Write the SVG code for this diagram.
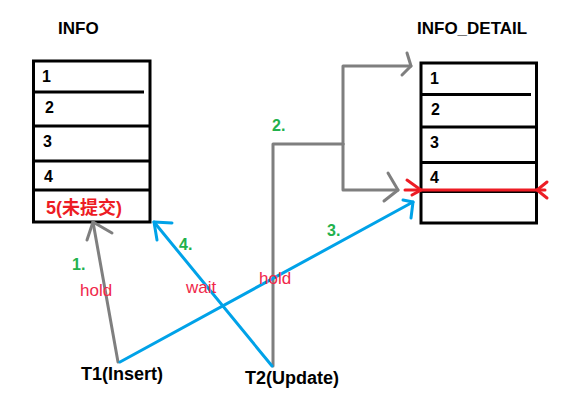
<svg xmlns="http://www.w3.org/2000/svg" width="588" height="420" viewBox="0 0 588 420">
<style>
.tbl{fill:none;stroke:#000;stroke-width:3}
.row{stroke:#000;stroke-width:3}
.title{font-family:"Liberation Sans",Arial,sans-serif;font-weight:bold;font-size:17px;fill:#000}
.num{font-family:"Liberation Sans",Arial,sans-serif;font-weight:bold;font-size:16px;fill:#000}
.gray{fill:none;stroke:#7f7f7f;stroke-width:3;stroke-linecap:round;stroke-linejoin:round}
.blue{fill:none;stroke:#00a2e8;stroke-width:3;stroke-linecap:round;stroke-linejoin:round}
.red{fill:none;stroke:#ed1c24;stroke-width:3;stroke-linecap:round}
.step{font-family:"Liberation Sans",Arial,sans-serif;font-weight:bold;font-size:16px;fill:#22b14c}
.lock{font-family:"Liberation Sans",Arial,sans-serif;font-size:17px;fill:#f0284a}
.tx{font-family:"Liberation Sans",Arial,sans-serif;font-weight:bold;font-size:18px;fill:#000}
</style>
<rect width="588" height="420" fill="#fff"/>
<g id="info">
<text class="title" x="58" y="34">INFO</text>
<rect class="tbl" x="33.5" y="61" width="116.5" height="161"/>
<line class="row" x1="33.5" y1="92" x2="144" y2="92"/>
<line class="row" x1="33.5" y1="126" x2="150" y2="126"/>
<line class="row" x1="33.5" y1="161" x2="150" y2="161"/>
<line class="row" x1="33.5" y1="190" x2="150" y2="190"/>
<text class="num" x="42" y="82">1</text>
<text class="num" x="45" y="113">2</text>
<text class="num" x="43" y="147">3</text>
<text class="num" x="44" y="182">4</text>
<text x="46" y="214" font-family="'Liberation Sans','Noto Sans CJK SC',sans-serif" font-weight="bold" font-size="18" fill="#ed1c24">5(未提交)</text>
</g>
<g id="info_detail">
<text class="title" x="417" y="34">INFO_DETAIL</text>
<rect class="tbl" x="421" y="63" width="115.5" height="160"/>
<line class="row" x1="421" y1="94.5" x2="531" y2="94.5"/>
<line class="row" x1="421" y1="127" x2="536.5" y2="127"/>
<line class="row" x1="421" y1="162.5" x2="536.5" y2="162.5"/>
<line class="row" x1="421" y1="191.5" x2="536.5" y2="191.5"/>
<text class="num" x="430" y="84">1</text>
<text class="num" x="431" y="115">2</text>
<text class="num" x="430" y="148">3</text>
<text class="num" x="430" y="183">4</text>
<g id="lock_mark">
<line class="red" x1="405" y1="190" x2="545" y2="190"/>
<path class="red" d="M407,180 L421,190 L412,195"/>
<path class="red" d="M547,182 L537,190 L547,198"/>
</g>
</g>
<g id="t1">
<text class="tx" x="81" y="380">T1(Insert)</text>
</g>
<g id="t2">
<text class="tx" x="245" y="384">T2(Update)</text>
</g>
<g id="connectors">
<path class="gray" d="M118,362 L93,222"/>
<path class="gray" d="M87,240 L93,222 L112,233"/>
<path class="gray" d="M273,366 L273,144 L343,144"/>
<path class="gray" d="M343,144 L343,66 L411,66"/>
<path class="gray" d="M407,53 L411,66 L402,75"/>
<path class="gray" d="M343,144 L343,190 L398,190"/>
<path class="gray" d="M388,173 L398,190 L384,201"/>
<path class="blue" d="M120,362 L413,202"/>
<path class="blue" d="M403,200 L413,202 L411,218"/>
<path class="blue" d="M272,366 L154,222"/>
<path class="blue" d="M157,240 L154,222 L172,223"/>
</g>
<g id="labels">
<text class="step" x="272" y="131">2.</text>
<text class="step" x="72" y="270">1.</text>
<text class="step" x="179" y="250">4.</text>
<text class="step" x="327" y="236">3.</text>
<text class="lock" x="80" y="296">hold</text>
<text class="lock" x="186" y="293">wait</text>
<text class="lock" x="259" y="284">hold</text>
</g>
</svg>
